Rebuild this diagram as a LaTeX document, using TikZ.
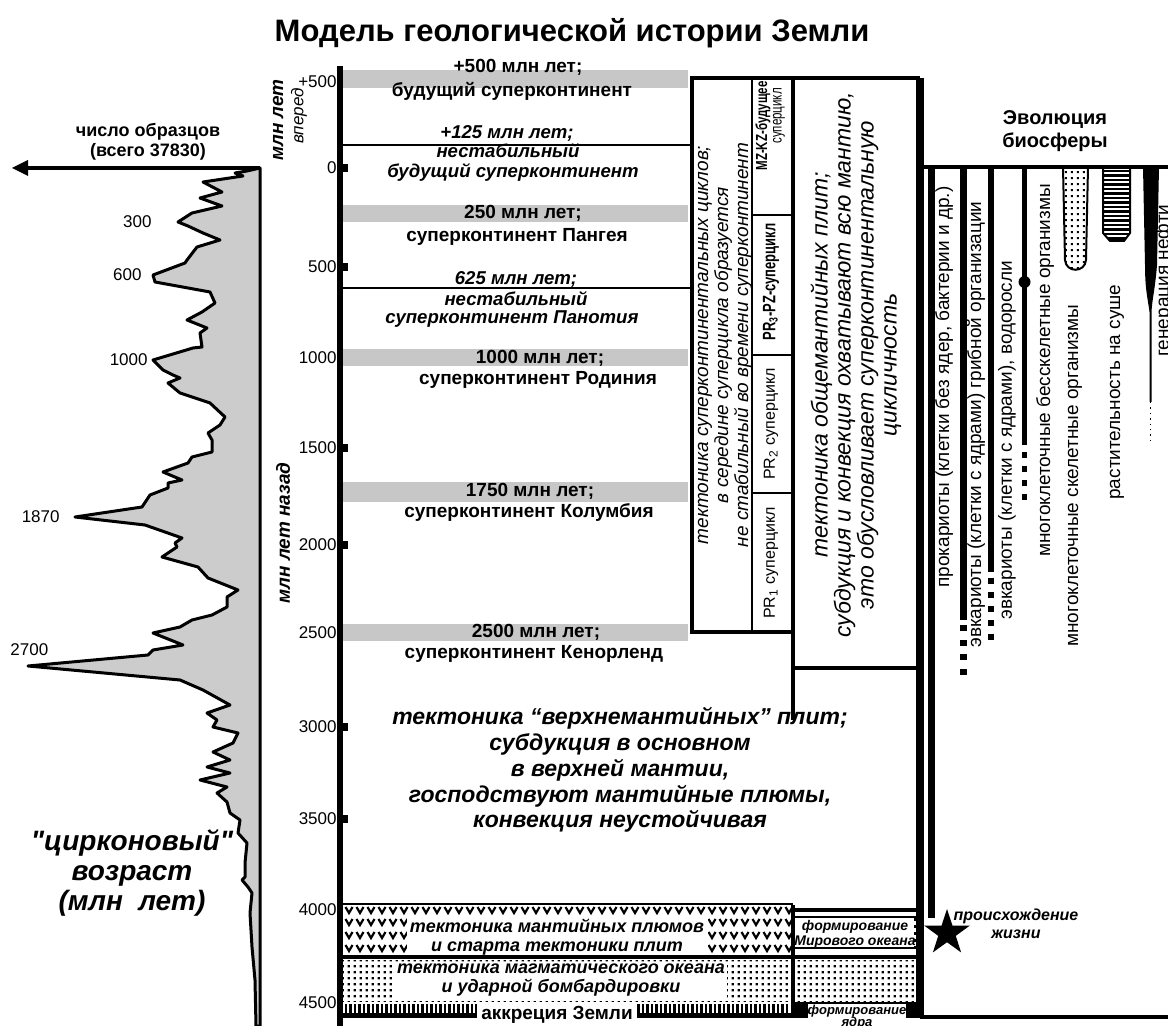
\documentclass[tikz,border=0pt]{standalone}
\usepackage{fontspec}
\setmainfont{Liberation Sans}
\newfontfamily\plainfont[Ligatures=TeXOff]{Liberation Sans}
\newfontfamily\narrowfont[FakeStretch=0.72]{Liberation Sans}
\usetikzlibrary{patterns,shapes.geometric}

\pgfdeclarepatternformonly{sqdots}{\pgfpointorigin}{\pgfpoint{2.8pt}{2.8pt}}{\pgfpoint{2.8pt}{2.8pt}}{%
  \pgfpathrectangle{\pgfpoint{0.4pt}{0.4pt}}{\pgfpoint{1.1pt}{1.1pt}}\pgfusepath{fill}}

\tikzset{
  every node/.style={inner sep=0pt},
  band/.style={fill=black!22},
  ttl/.style={font=\fontsize{15.5}{17}\selectfont\bfseries},
  ageno/.style={font=\fontsize{8.5}{10}\selectfont},
  era/.style={font=\fontsize{9.5}{11}\selectfont\bfseries},
  erai/.style={font=\fontsize{9.3}{10}\selectfont\bfseries\itshape},
  tect/.style={font=\fontsize{11.5}{12.9}\selectfont\bfseries\itshape, align=center},
  layer/.style={font=\fontsize{9}{9.5}\selectfont\bfseries\itshape, align=center},
  bio/.style={font=\fontsize{9.5}{10}\selectfont, rotate=90, anchor=west},
  boxline/.style={line width=1.6pt},
  vmark/.style={line width=1.1pt},
}

\begin{document}
\begin{tikzpicture}[x=0.5pt,y=-0.5pt]
\useasboundingbox (0,0) rectangle (1168,1026);

\node[ttl] (title) at (572,33) {Модель геологической истории Земли};

% zircon ages histogram
\coordinate (cnt0) at (260,168);
\coordinate (cntend) at (12,168);
\draw[fill=black!20, line width=1.5pt, line join=round]
  (cnt0) -- (247,171) -- (235,173) -- (243,176) -- (203,182) -- (222,192)
  -- (200,198) -- (222,206) -- (192,213) -- (178,222) -- (188,226)
  -- (203,233) -- (220,240) -- (197,247) -- (187,260) -- (185,263)
  -- (153,275) -- (155,282) -- (210,292) -- (215,303) -- (202,312)
  -- (187,320) -- (207,328) -- (200,333) -- (202,347) -- (193,348)
  -- (153,360) -- (163,370) -- (173,375) -- (180,378) -- (168,383)
  -- (180,393) -- (210,403) -- (225,417) -- (220,425) -- (208,433)
  -- (212,440) -- (212,452) -- (192,457) -- (188,463) -- (163,472)
  -- (182,480) -- (168,483) -- (168,488) -- (150,495) -- (142,507)
  -- (75,517) -- (145,525) -- (182,538) -- (175,543) -- (177,547)
  -- (162,557) -- (198,567) -- (208,578) -- (238,590) -- (227,597)
  -- (227,607) -- (212,615) -- (192,620) -- (180,627) -- (153,633)
  -- (183,645) -- (153,650) -- (148,655) -- (28,666) -- (180,680)
  -- (203,690) -- (230,705) -- (207,713) -- (217,720) -- (213,727)
  -- (238,733) -- (233,743) -- (213,752) -- (230,760) -- (207,767)
  -- (230,773) -- (200,780) -- (227,787) -- (217,793) -- (227,802)
  -- (230,813) -- (240,820) -- (238,833) -- (247,843) -- (245,863)
  -- (245,877) -- (242,880) -- (248,887) -- (252,893) -- (250,913)
  -- (252,947) -- (255,980) -- (256,1026) -- (260,1026) -- cycle;
\draw[line width=1.3pt] (cnt0) -- (260,1026);
\draw[line width=1.6pt] (cnt0) -- (27,168);
\fill (cntend) -- (28,160) -- (28,176) -- cycle;
\node[font=\fontsize{9}{10}\selectfont\bfseries, align=center] (cnt) at (148,142) {число образцов\\(всего 37830)};
\node[ageno, anchor=east] (z300) at (152,222) {300};
\node[ageno, anchor=east] (z600) at (142,275) {600};
\node[ageno, anchor=east] (z1000) at (148,360) {1000};
\node[ageno, anchor=east] (z1870) at (60,517) {1870};
\node[ageno, anchor=west] (z2700) at (10,650) {2700};
\node[font=\fontsize{14}{15}\selectfont\plainfont\bfseries\itshape, align=center] (zrc) at (132,873) {"цирконовый"\\возраст\\(млн\ \ лет)};

% time axis
\draw[line width=2.6pt] (340,66) -- (340,1026);
\foreach \t in {168,267,448,545,727,819}
  \fill (340,\t-4) rectangle (348,\t+4);
\foreach \lab/\t [count=\i] in {+500/82,0/168,500/267,1000/358,1500/448,2000/545,2500/633,3000/727,3500/819,4000/910,4500/1003}
  \node[ageno, anchor=east] (tick\i) at (337,\t) {\lab};
\node[font=\fontsize{9.5}{11}\selectfont\bfseries\itshape, rotate=90] (fwd1) at (278,120) {млн лет};
\node[font=\fontsize{8.5}{10}\selectfont\itshape, rotate=90] (fwd2) at (299,116) {вперед};
\node[font=\fontsize{9.5}{11}\selectfont\bfseries\itshape, rotate=90] (back) at (283,533) {млн лет назад};

% supercontinents
\foreach \a/\b in {70/88,205/222,349/366,482/502,624/641}
  \fill[band] (343,\a) rectangle (688,\b);
\draw[line width=1.3pt] (343,145) -- (690,145);
\draw[line width=1.3pt] (343,288) -- (690,288);
\node[era] (e500a) at (518,67) {+500 млн лет;};
\node[era] (e500b) at (512,91) {будущий суперконтинент};
\node[erai] (e125a) at (507,133) {+125 млн лет;};
\node[erai] (e125b) at (508,151) {нестабильный};
\node[erai] (e125c) at (513,172) {будущий суперконтинент};
\node[era] (e250a) at (523,213) {250 млн лет;};
\node[era] (e250b) at (517,237) {суперконтинент Пангея};
\node[erai] (e625a) at (516,279) {625 млн лет;};
\node[erai] (e625b) at (516,299) {нестабильный};
\node[erai] (e625c) at (512,319) {суперконтинент Панотия};
\node[era] (e1000a) at (540,358) {1000 млн лет;};
\node[era] (e1000b) at (538,380) {суперконтинент Родиния};
\node[era] (e1750a) at (530,491) {1750 млн лет;};
\node[era] (e1750b) at (529,513) {суперконтинент Колумбия};
\node[era] (e2500a) at (536,632) {2500 млн лет;};
\node[era] (e2500b) at (534,654) {суперконтинент Кенорленд};

% tectonic columns
\draw[boxline] (692,78) rectangle (793,632);
\draw[line width=0.8pt] (752,78) -- (752,632);
\draw[line width=1.4pt] (752,215) -- (793,215);
\draw[line width=0.8pt] (752,355) -- (793,355);
\draw[line width=0.8pt] (752,493) -- (793,493);
\draw[boxline] (793,78) rectangle (918,668);
\node[rotate=90, align=center, font=\fontsize{9.5}{8.3}\selectfont\itshape] (supc) at (725,345) {тектоника суперконтинентальных циклов;\\в середине суперцикла образуется\\не стабильный во времени суперконтинент};
\node[rotate=90, font=\fontsize{8}{9}\selectfont\narrowfont\bfseries] (mzkz) at (763,126) {MZ-KZ-будущее};
\node[rotate=90, font=\fontsize{8}{9}\selectfont\narrowfont] (mzkzb) at (779,116) {суперцикл};
\node[rotate=90, font=\fontsize{9}{10}\selectfont\narrowfont\bfseries] (pr3) at (771,282) {PR\textsubscript{3}-PZ-суперцикл};
\node[rotate=90, font=\fontsize{8}{9}\selectfont] (pr2) at (771,424) {PR\textsubscript{2} суперцикл};
\node[rotate=90, font=\fontsize{8}{9}\selectfont] (pr1) at (771,563) {PR\textsubscript{1} суперцикл};
\node[rotate=90, align=center, font=\fontsize{11.5}{11.5}\selectfont\itshape] (mant) at (856,365) {тектоника общемантийных плит;\\субдукция и конвекция охватывают всю мантию,\\это обусловливает суперконтинентальную\\цикличность};

% lower box
\draw[boxline] (793,668) -- (793,720);
\draw[boxline] (793,905) -- (793,1015);
\draw[boxline] (918,668) -- (918,1015);
\node[tect] (upper) at (620,770) {тектоника “верхнемантийных” плит;\\субдукция в основном\\в верхней мантии,\\господствуют мантийные плюмы,\\конвекция неустойчивая};

% plumes layer
\draw[line width=0.8pt] (343,904) -- (793,904);
\foreach \row in {910,922,935,948}
  \foreach \col in {349,360,...,789}
    \draw[vmark] (\col-3.5,\row-3) -- (\col,\row+3) -- (\col+3.5,\row-3);
\fill[white] (407,916) rectangle (708,956);
\node[layer] (plume) at (557,937) {тектоника мантийных плюмов\\и старта тектоники плит};
\draw[line width=1.6pt] (793,910) -- (918,910);
\draw[line width=0.8pt] (793,917) -- (918,917);
\draw[line width=0.8pt] (793,948) -- (918,948);
\draw[line width=1.5pt, dotted] (915,918) -- (915,948);
\node[font=\fontsize{7}{7.5}\selectfont\bfseries\itshape, align=center] (ocean) at (855,934) {формирование\\Мирового океана};
\draw[line width=1.8pt] (340,957) -- (918,957);

% magma ocean layer
\fill[pattern=sqdots] (343,960) rectangle (918,1001);
\fill[white] (395,962) rectangle (727,999);
\node[layer] (magma) at (561,980) {тектоника магматического океана\\и ударной бомбардировки};

% accretion
\foreach \s in {346,350.5,...,790}
  \draw[line width=1.1pt] (\s,1004) -- (\s,1013);
\draw[line width=2.5pt] (340,1015) -- (793,1015);
\fill (793,1002) rectangle (920,1018);
\node[fill=white, inner xsep=2pt, inner ysep=1pt, font=\fontsize{9.5}{10}\selectfont\bfseries] (accr) at (557,1015) {аккреция Земли};
\node[fill=white, minimum width=44pt, minimum height=7pt, font=\fontsize{6.5}{7}\selectfont\bfseries\itshape] (core) at (857,1011) {формирование};
\node[font=\fontsize{6.5}{7}\selectfont\bfseries\itshape] (coreb) at (857,1023) {ядра};

% biosphere
\draw[boxline] (922,78) -- (922,1017) -- (1168,1017);
\draw[boxline] (922,167) -- (1168,167);
\node[font=\fontsize{10}{11.5}\selectfont\bfseries, align=center] (bios) at (1055,131) {Эволюция\\биосферы};
\fill (928,167) rectangle (935,918);
\node[bio] (prok) at (944,588) {прокариоты (клетки без ядер, бактерии и др.)};
\fill (960,167) rectangle (967,620);
\foreach \t in {628,643,657,672}
  \fill (960,\t-3) rectangle (967,\t+3);
\node[bio] (euk1) at (976,648) {эвкариоты (клетки с ядрами) грибной организации};
\fill (988,167) rectangle (994,572);
\foreach \t in {581,595,609,623,637}
  \fill (988,\t-3) rectangle (994,\t+3);
\node[bio] (euk2) at (1007,620) {эвкариоты (клетки с ядрами), водоросли};
\fill (1022,167) rectangle (1027,445);
\fill (1024.5,282) circle[radius=3pt];
\foreach \t in {455,469,483,497}
  \fill (1022,\t-3) rectangle (1027,\t+3);
\node[bio] (multa) at (1045,557) {многоклеточные бесскелетные организмы};
\draw[line width=1pt, pattern=sqdots] (1063,167) -- (1065,260) .. controls (1066,273) and (1085,273) .. (1086,260) -- (1088,167);
\node[bio] (multb) at (1075,647) {многоклеточные скелетные организмы};
\begin{scope}
  \clip (1103,167) -- (1103,233) -- (1110,241) -- (1124,241) -- (1130,233) -- (1130,167) -- cycle;
  \foreach \y in {171,175.5,...,242}
    \draw[line width=1.2pt] (1100,\y) -- (1133,\y);
\end{scope}
\draw[line width=1pt] (1103,167) -- (1103,233) -- (1110,241) -- (1124,241) -- (1130,233) -- (1130,167);
\node[bio] (plant) at (1117,500) {растительность на суше};
\fill (1143,167) -- (1159,167) -- (1157,265) .. controls (1155,290) and (1152,300) .. (1151.5,312) -- (1151.5,402) -- (1149.5,402) -- (1149.5,312) .. controls (1148,300) and (1145,290) .. (1145,265) -- cycle;
\draw[line width=0.7pt, dotted] (1150.5,402) -- (1150.5,443);
\node[bio] (oil) at (1164,357) {генерация нефти};
\node[star, star points=5, star point ratio=2.6, fill, minimum size=24pt] (star) at (947,933) {};
\node[font=\fontsize{8}{9}\selectfont\bfseries\itshape, align=center] (life) at (1016,924) {происхождение\\жизни};
\end{tikzpicture}
\end{document}
